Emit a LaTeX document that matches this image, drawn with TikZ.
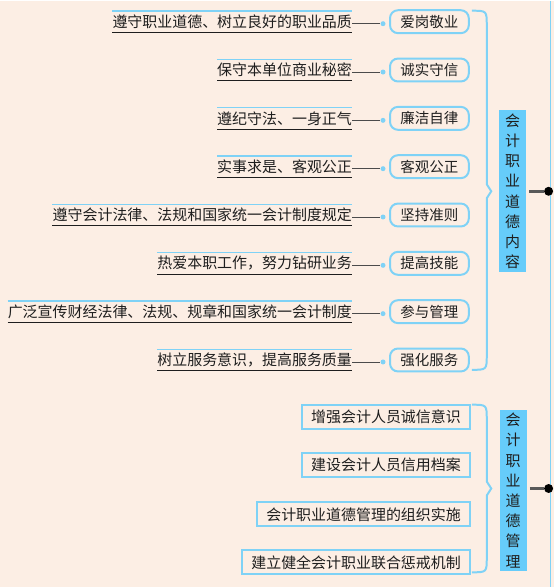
\documentclass[tikz,border=0pt]{standalone}
\usepackage{fontspec}
\setmainfont{Noto Sans CJK SC}
\definecolor{bgpeach}{HTML}{FCEEE4}
\definecolor{skyline}{HTML}{7FD2F6}
\definecolor{skyfill}{HTML}{66CCFA}
\definecolor{inkdark}{HTML}{1E1E1E}
\begin{document}
\begin{tikzpicture}[x=1pt,y=-1pt,
      font=\fontsize{15}{18}\selectfont,text=inkdark,
      dot/.style={circle,fill=skyline,inner sep=0pt,minimum size=5pt},
      enddot/.style={circle,fill=black,inner sep=0pt,minimum size=9pt},
      tag/.style={rounded corners=8pt,draw=skyline,line width=2pt,fill=bgpeach,
        minimum width=79pt,minimum height=23pt,inner sep=0pt,font=\fontsize{14.5}{17}\selectfont},
      note/.style={anchor=east,inner xsep=0pt,inner ysep=0pt,minimum height=21pt},
      plan/.style={draw=skyline,line width=2pt,anchor=east,inner xsep=9pt,inner ysep=0pt,minimum height=24pt},
      title/.style={fill=skyfill,minimum width=27pt,minimum height=162pt,inner sep=0pt,
        align=center,font=\fontsize{15}{20.25}\selectfont},
      bracket/.style={draw=skyline,line width=2pt}]
      \fill[bgpeach] (0,0) rectangle (555,588);
      \draw[skyline,line width=1.5pt] (552,0) -- (552,588);
      % content items
      \foreach \i/\desc/\tagname in {0/遵守职业道德、树立良好的职业品质/爱岗敬业,
          1/保守本单位商业秘密/诚实守信,2/遵纪守法、一身正气/廉洁自律,
          3/实事求是、客观公正/客观公正,4/遵守会计法律、法规和国家统一会计制度规定/坚持准则,
          5/热爱本职工作，努力钻研业务/提高技能,6/广泛宣传财经法律、法规、规章和国家统一会计制度/参与管理,
          7/树立服务意识，提高服务质量/强化服务} {
        \pgfmathsetmacro{\y}{21+48.45*\i}
        \node[note] (n\i) at (353,\y) {\desc};
        \draw[skyline,line width=1.2pt] (n\i.north west) -- (n\i.north east);
        \draw[inkdark,line width=1pt] (n\i.south west) -- (n\i.south east);
        \node[dot] (d\i) at (384,\y+2) {};
        \draw[inkdark!80,line width=0.9pt] (n\i.east |- d\i) -- (d\i);
        \node[tag] (g\i) at (430.5,\y) {\tagname};
      }
      \draw[bracket] (473,10) .. controls (488,10) .. (488,25) -- (488,184) -- (492.5,191)
        -- (488,198) -- (488,355) .. controls (488,370) .. (473,370);
      \node[title] (content) at (514,191) {会\\计\\职\\业\\道\\德\\内\\容};
      \node[enddot] (e1) at (550,191) {};
      \draw[gray!70!black,line width=2.5pt,shorten <=3pt] (content.east |- e1) -- (e1);
      % management items
      \foreach \y/\plan [count=\k] in {417/增强会计人员诚信意识,465/建设会计人员信用档案,
          515/会计职业道德管理的组织实施,563/建立健全会计职业联合惩戒机制} {
        \node[plan] (p\k) at (472,\y) {\plan};
      }
      \draw[bracket] (473,405) .. controls (488,405) .. (488,420) -- (488,482) -- (492.5,489)
        -- (488,496) -- (488,558) .. controls (488,573) .. (473,573);
      \node[title] (manage) at (514.5,491) {会\\计\\职\\业\\道\\德\\管\\理};
      \node[enddot] (e2) at (550,489) {};
      \draw[gray!70!black,line width=2.5pt,shorten <=3pt] (manage.east |- e2) -- (e2);
    \end{tikzpicture}
\end{document}
